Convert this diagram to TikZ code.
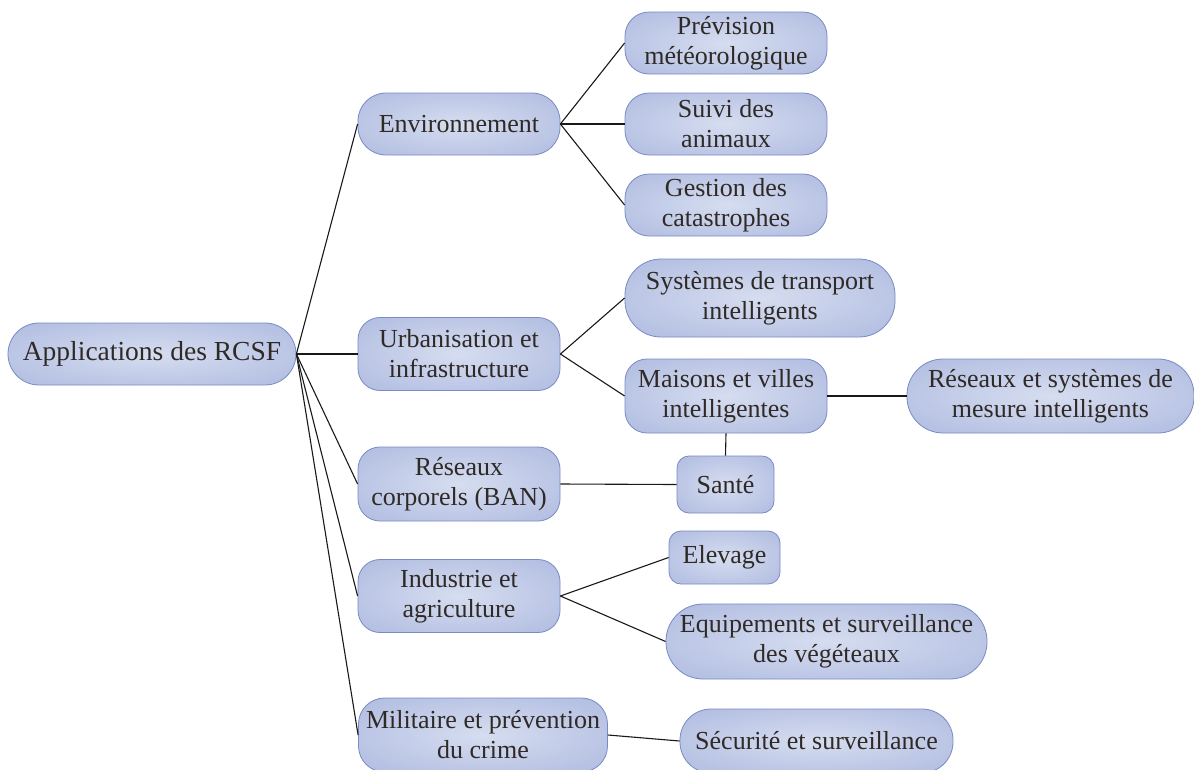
\documentclass[tikz,border=0pt]{standalone}
\usepackage{fontspec}
\setmainfont{Liberation Serif}

\definecolor{boxin}{RGB}{214,221,240}
\definecolor{boxout}{RGB}{162,176,219}
\definecolor{boxline}{RGB}{120,139,196}
\definecolor{ink}{RGB}{48,42,38}
\definecolor{wire}{RGB}{25,25,25}

\pgfdeclareradialshading{boxshade}{\pgfpoint{0bp}{0bp}}{%
  color(0bp)=(boxin); color(48bp)=(boxout); color(72bp)=(boxout)}

\tikzset{
  box/.style n args={3}{draw=boxline, line width=0.8pt, shade, shading=boxshade,
    align=center, inner sep=0pt, text=ink,
    font=\fontsize{26}{30}\selectfont,
    minimum width=#1, minimum height=#2, rounded corners=#3},
  link/.style={draw=wire, line width=1.1pt}
}

\begin{document}
\begin{tikzpicture}[x=1pt,y=-1pt]
\useasboundingbox (0,0) rectangle (1194,769);

% root
\node[box={288pt}{62pt}{31pt}, font=\fontsize{27.5}{31}\selectfont] (root) at (152,354) {Applications des RCSF};

% first level
\node[box={202pt}{62pt}{28pt}] (env) at (459,124) {Environnement};
\node[box={202pt}{73pt}{22pt}] (urb) at (459,354) {Urbanisation et\\infrastructure};
\node[box={202pt}{74pt}{22pt}] (ban) at (459,484) {Réseaux\\corporels (BAN)};
\node[box={202pt}{73pt}{22pt}] (ind) at (459,596) {Industrie et\\agriculture};
\node[box={249pt}{74pt}{26pt}] (mil) at (483,735) {Militaire et prévention\\du crime};

% second level
\node[box={202pt}{62pt}{24pt}] (prev) at (726,43) {Prévision\\météorologique};
\node[box={202pt}{62pt}{24pt}] (suivi) at (726,124) {Suivi des\\animaux};
\node[box={202pt}{62pt}{24pt}] (gest) at (726,205) {Gestion des\\catastrophes};
\node[box={270pt}{78pt}{36pt}] (trans) at (760,298) {Systèmes de transport\\intelligents};
\node[box={202pt}{74pt}{22pt}] (mais) at (726,396) {Maisons et villes\\intelligentes};
\node[box={287pt}{74pt}{36pt}] (mes) at (1050.5,396) {Réseaux et systèmes de\\mesure intelligents};
\node[box={97pt}{57pt}{12pt}] (sante) at (725.5,484.5) {Santé};
\node[box={111pt}{53pt}{12pt}] (elev) at (724.5,557.5) {Elevage};
\node[box={321pt}{75pt}{37pt}] (equip) at (826.5,641.5) {Equipements et surveillance\\des végéteaux};
\node[box={273pt}{64pt}{31pt}] (secu) at (816.5,741) {Sécurité et surveillance};

% connectors
\draw[link] (root.east) -- (env.west);
\draw[link] (root.east) -- (urb.west);
\draw[link] (root.east) -- (ban.west);
\draw[link] (root.east) -- (ind.west);
\draw[link] (root.east) -- (mil.west);

\draw[link] (env.east) -- (prev.west);
\draw[link] (env.east) -- (suivi.west);
\draw[link] (env.east) -- (gest.west);

\draw[link] (urb.east) -- (trans.west);
\draw[link] (urb.east) -- (mais.west);
\draw[link] (mais.east) -- (mes.west);
\draw[link] (mais.south) -- (sante.north);

\draw[link] (ban.east) -- (sante.west);

\draw[link] (ind.east) -- (elev.west);
\draw[link] (ind.east) -- (equip.west);

\draw[link] (mil.east) -- (secu.west);
\end{tikzpicture}
\end{document}
